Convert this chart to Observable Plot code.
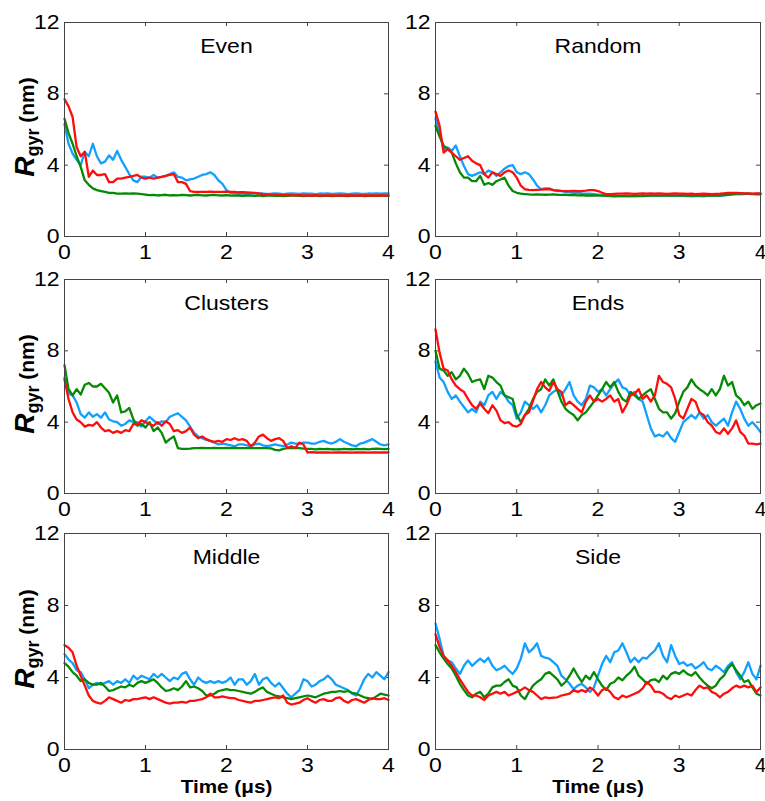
<!DOCTYPE html>
<html>
<head>
<meta charset="utf-8">
<script src="https://cdn.jsdelivr.net/npm/d3@7"></script>
<script src="https://cdn.jsdelivr.net/npm/@observablehq/plot@0.6"></script>
<style>
  html, body { margin: 0; padding: 0; background: #fff; }
  body { width: 765px; height: 801px; position: relative; overflow: hidden; font-family: "Liberation Sans", Arial, sans-serif; }
  .panel { position: absolute; }
  .panel svg { overflow: visible; }
</style>
</head>
<body>
<div id="chart"></div>
<script>
// ---------- data ----------
const times = [0,0.05,0.1,0.15,0.2,0.25,0.3,0.35,0.4,0.45,0.5,0.55,0.6,0.65,0.7,0.75,0.8,0.85,0.9,0.95,1,1.05,1.1,1.15,1.2,1.25,1.3,1.35,1.4,1.45,1.5,1.55,1.6,1.65,1.7,1.75,1.8,1.85,1.9,1.95,2,2.05,2.1,2.15,2.2,2.25,2.3,2.35,2.4,2.45,2.5,2.55,2.6,2.65,2.7,2.75,2.8,2.85,2.9,2.95,3,3.05,3.1,3.15,3.2,3.25,3.3,3.35,3.4,3.45,3.5,3.55,3.6,3.65,3.7,3.75,3.8,3.85,3.9,3.95,4];

const xTicks = [0, 1, 2, 3, 4];
const yTicks = [0, 4, 8, 12];
const titles = ["Even", "Random", "Clusters", "Ends", "Middle", "Side"];
const xLabel = "Time (\u03bcs)";

const evenGreen = [6.6,5.8,5.2,4.5,3.9,3.15,2.9,2.7,2.6,2.55,
  2.5,2.45,2.45,2.4,2.4,2.42,2.4,2.42,2.4,2.38,
  2.35,2.32,2.33,2.3,2.32,2.34,2.3,2.32,2.31,2.33,
  2.32,2.3,2.32,2.34,2.31,2.3,2.32,2.33,2.31,2.3,
  2.32,2.3,2.29,2.3,2.28,2.3,2.29,2.28,2.3,2.27,
  2.29,2.3,2.28,2.29,2.27,2.28,2.3,2.29,2.28,2.27,
  2.29,2.28,2.3,2.27,2.28,2.29,2.27,2.28,2.3,2.28,
  2.27,2.29,2.28,2.3,2.27,2.28,2.29,2.28,2.3,2.29,
  2.28];
const evenBlue = [6.3,5.2,4.65,4.3,4.0,4.75,4.5,5.2,4.5,4.1,
  4.2,4.55,4.3,4.8,4.3,3.9,3.5,3.15,3.05,3.35,
  3.35,3.3,3.45,3.3,3.35,3.4,3.5,3.6,3.35,3.3,
  3.15,3.2,3.25,3.35,3.45,3.5,3.6,3.45,3.15,2.95,
  2.6,2.45,2.4,2.42,2.4,2.38,2.4,2.42,2.4,2.41,
  2.39,2.4,2.42,2.4,2.38,2.4,2.41,2.4,2.39,2.42,
  2.4,2.4,2.38,2.41,2.4,2.42,2.39,2.4,2.41,2.4,
  2.38,2.4,2.42,2.4,2.39,2.41,2.4,2.42,2.4,2.41,
  2.42];
const evenRed = [7.7,7.3,6.7,5.0,4.5,4.75,3.35,3.7,3.45,3.45,
  3.5,3.05,3.05,3.25,3.25,3.3,3.35,3.4,3.45,3.3,
  3.25,3.3,3.25,3.3,3.35,3.4,3.45,3.5,3.05,3.05,
  2.95,2.55,2.5,2.5,2.5,2.5,2.52,2.5,2.5,2.5,
  2.52,2.5,2.5,2.48,2.48,2.47,2.46,2.45,2.42,2.38,
  2.35,2.35,2.34,2.33,2.32,2.33,2.32,2.31,2.32,2.31,
  2.3,2.31,2.3,2.31,2.3,2.3,2.31,2.3,2.3,2.31,
  2.3,2.3,2.31,2.3,2.3,2.31,2.3,2.3,2.31,2.3,
  2.3];

const randomGreen = [6.2,5.6,5.1,4.9,4.7,4.1,3.6,3.3,3.3,3.1,
  3.1,3.4,2.9,3.0,2.9,3.1,3.2,3.3,2.85,2.55,
  2.45,2.4,2.38,2.36,2.35,2.36,2.35,2.34,2.35,2.36,
  2.34,2.33,2.34,2.32,2.33,2.31,2.32,2.3,2.31,2.3,
  2.3,2.29,2.28,2.27,2.28,2.26,2.27,2.28,2.26,2.27,
  2.28,2.27,2.28,2.29,2.3,2.29,2.3,2.31,2.3,2.29,
  2.3,2.31,2.3,2.29,2.3,2.31,2.3,2.29,2.3,2.31,
  2.3,2.32,2.34,2.38,2.4,2.41,2.4,2.39,2.38,2.37,
  2.36];
const randomBlue = [6.6,5.8,4.9,5.0,4.8,5.1,4.5,3.95,3.5,3.4,
  3.5,3.6,3.5,3.7,3.6,3.4,3.6,3.8,3.95,4.0,
  3.6,3.5,3.6,3.5,3.2,2.85,2.65,2.7,2.7,2.6,
  2.55,2.55,2.5,2.48,2.45,2.45,2.42,2.4,2.4,2.38,
  2.35,2.32,2.3,2.28,2.25,2.27,2.26,2.28,2.27,2.26,
  2.28,2.3,2.29,2.3,2.31,2.3,2.29,2.3,2.31,2.3,
  2.29,2.28,2.26,2.25,2.27,2.26,2.25,2.28,2.3,2.29,
  2.3,2.31,2.33,2.35,2.36,2.37,2.38,2.4,2.39,2.4,
  2.42];
const randomRed = [7.0,6.2,4.7,4.9,4.7,4.5,4.3,4.4,4.5,4.25,
  4.1,4.0,3.5,3.3,3.6,3.5,3.4,3.6,3.7,3.6,
  3.3,2.85,2.65,2.62,2.6,2.62,2.63,2.65,2.65,2.6,
  2.58,2.56,2.55,2.55,2.56,2.55,2.55,2.57,2.6,2.6,
  2.55,2.45,2.38,2.38,2.39,2.4,2.4,2.41,2.4,2.39,
  2.4,2.41,2.4,2.42,2.4,2.41,2.4,2.39,2.4,2.41,
  2.4,2.4,2.39,2.4,2.38,2.39,2.4,2.39,2.38,2.39,
  2.4,2.42,2.44,2.45,2.44,2.43,2.42,2.41,2.4,2.41,
  2.4];

const clustersGreen = [7.2,5.85,5.5,5.85,5.55,6.1,6.2,6.0,6.0,6.15,
  5.9,5.65,5.1,5.5,4.55,4.6,4.8,4.15,3.8,3.9,
  3.7,4.0,3.5,3.7,3.4,2.85,3.05,3.2,2.55,2.5,
  2.5,2.52,2.55,2.55,2.56,2.55,2.54,2.56,2.55,2.55,
  2.56,2.55,2.56,2.55,2.54,2.55,2.56,2.55,2.54,2.55,
  2.55,2.53,2.45,2.42,2.5,2.55,2.56,2.55,2.54,2.52,
  2.5,2.5,2.48,2.5,2.49,2.5,2.48,2.47,2.48,2.5,
  2.49,2.48,2.5,2.49,2.5,2.48,2.5,2.51,2.5,2.49,
  2.5];
const clustersBlue = [6.5,5.6,5.5,5.1,4.45,4.25,4.55,4.3,4.45,4.25,
  4.55,4.15,4.05,4.0,3.8,3.9,4.1,4.0,4.0,3.75,
  4.05,4.3,4.1,3.9,4.05,4.0,4.3,4.4,4.5,4.3,
  4.1,3.75,3.4,3.2,3.1,3.0,2.95,2.85,2.75,2.8,
  2.75,2.7,2.65,2.75,2.75,2.7,2.65,2.75,2.8,2.7,
  2.65,2.7,2.75,2.7,2.65,2.75,2.85,2.8,2.8,2.85,
  2.85,2.8,2.8,2.9,2.95,2.85,2.8,2.9,3.05,2.9,
  2.8,2.7,2.65,2.8,2.85,2.95,3.05,2.9,2.75,2.7,
  2.75];
const clustersRed = [6.4,5.3,4.55,4.15,4.0,3.75,3.85,3.8,4.0,3.7,
  3.5,3.55,3.4,3.5,3.4,3.55,3.5,3.9,3.85,4.1,
  4.0,3.9,3.8,4.0,3.8,4.05,3.9,3.5,3.55,3.4,
  3.5,3.7,3.3,3.1,3.2,3.05,2.95,2.9,2.95,2.9,
  3.05,3.0,3.1,3.0,3.05,2.95,2.65,2.85,3.2,3.3,
  3.1,2.95,3.05,3.1,2.95,2.55,2.65,2.55,2.85,2.75,
  2.3,2.32,2.3,2.31,2.3,2.3,2.29,2.3,2.31,2.3,
  2.3,2.29,2.3,2.31,2.3,2.29,2.3,2.3,2.31,2.3,
  2.3];

const endsGreen = [8.0,7.0,6.9,6.6,6.8,6.4,6.6,7.0,6.7,6.25,
  6.35,6.4,5.85,6.6,6.5,6.25,6.05,5.5,5.4,5.3,
  4.4,4.0,4.4,4.75,5.3,5.7,5.85,6.4,6.05,6.4,
  5.75,5.15,4.75,4.55,4.4,4.1,4.4,4.55,4.85,5.15,
  5.5,5.85,6.25,5.95,6.25,5.7,5.3,5.15,5.7,5.5,
  5.3,5.5,5.7,5.85,5.3,4.75,4.55,4.55,4.2,4.5,
  5.15,5.7,5.95,6.4,6.05,5.85,5.7,5.5,5.85,5.5,
  5.85,6.6,6.05,6.25,5.5,5.3,4.95,5.15,4.75,4.95,
  5.05];
const endsBlue = [7.4,6.5,6.25,5.7,5.3,5.5,5.15,4.85,4.55,4.75,
  4.55,5.15,4.95,5.5,5.7,5.3,5.7,5.5,5.15,4.95,
  4.2,4.55,5.15,4.95,4.75,4.95,4.55,4.95,5.5,5.7,
  5.85,5.5,5.85,6.25,5.5,5.15,4.95,5.3,6.05,5.95,
  5.7,5.85,5.5,5.85,6.15,6.4,5.95,5.85,5.5,5.7,
  5.3,5.15,4.4,3.65,3.2,3.3,3.2,3.45,3.1,2.9,
  3.45,4.0,4.2,4.4,4.2,4.55,4.2,4.4,4.0,3.8,
  4.0,4.2,3.8,4.55,5.15,4.75,4.2,3.8,4.0,3.75,
  3.45];
const endsRed = [9.2,7.9,7.0,6.9,6.4,6.05,5.85,5.7,5.3,4.95,
  4.75,5.05,4.75,4.5,4.95,4.65,4.1,3.95,4.0,3.8,
  3.75,3.9,4.4,4.55,5.2,5.85,6.25,5.95,5.75,6.25,
  5.85,5.7,4.95,5.15,4.95,4.75,4.55,5.15,5.5,5.15,
  5.3,5.15,5.3,5.5,5.15,5.3,4.55,4.95,5.5,5.6,
  5.85,5.3,5.5,5.15,5.5,6.6,6.25,6.15,5.95,5.3,
  4.4,4.2,4.75,5.3,5.15,4.55,4.4,4.0,3.8,3.45,
  3.35,3.65,3.35,3.65,4.1,3.45,3.25,2.8,2.8,2.75,
  2.8];

const middleGreen = [4.8,4.6,4.3,4.1,3.8,3.9,3.7,3.6,3.6,3.7,
  3.5,3.25,3.3,3.4,3.5,3.45,3.6,3.5,3.7,3.8,
  3.7,3.8,3.9,3.7,3.45,3.25,3.3,3.4,3.3,3.5,
  3.8,3.45,3.5,3.4,3.25,3.0,3.0,3.1,3.25,3.3,
  3.35,3.3,3.3,3.25,3.2,3.15,3.1,3.2,3.35,3.45,
  3.2,3.1,3.0,2.95,2.9,2.85,2.8,2.85,2.9,2.95,
  3.0,2.95,2.9,3.0,3.1,3.15,3.2,3.2,3.25,3.2,
  3.25,3.15,3.1,3.0,2.9,2.85,2.8,2.95,3.1,3.05,
  3.0];
const middleBlue = [5.3,5.0,4.8,4.4,4.3,3.9,3.4,3.6,3.7,3.6,
  3.7,3.8,3.6,3.8,3.7,3.9,3.7,4.1,3.9,4.1,
  4.0,3.9,4.2,4.0,4.2,4.0,3.8,4.0,3.9,4.2,
  4.3,3.9,3.6,4.0,3.8,3.7,3.8,3.7,3.8,3.7,
  3.8,4.0,3.6,3.9,3.9,3.6,3.8,4.2,3.6,3.9,
  4.0,3.7,3.5,3.7,3.4,3.1,2.9,3.1,3.3,3.9,
  3.8,3.5,3.6,3.8,3.9,4.1,3.9,3.6,3.5,3.4,
  3.3,3.1,3.0,3.4,3.9,4.2,4.0,4.3,4.1,3.9,
  4.3];
const middleRed = [5.8,5.65,5.4,4.65,4.1,3.55,3.0,2.7,2.6,2.55,
  2.7,2.9,2.8,2.7,2.6,2.75,2.7,2.8,2.8,2.85,
  2.9,2.8,2.9,2.8,2.7,2.6,2.55,2.6,2.6,2.65,
  2.6,2.7,2.7,2.75,2.8,2.9,3.1,2.9,2.9,2.95,
  2.9,2.85,2.85,2.75,2.7,2.65,2.6,2.7,2.7,2.75,
  2.8,2.85,2.9,2.85,3.0,2.6,2.5,2.55,2.6,2.75,
  2.85,2.7,2.6,2.75,2.8,2.7,2.7,2.85,2.9,2.7,
  2.6,2.75,2.8,2.7,2.6,2.75,2.85,2.8,2.8,2.85,
  2.75];

const sideGreen = [5.8,5.4,5.05,4.75,4.5,4.1,3.65,3.3,3.0,2.9,
  3.1,3.2,2.9,3.1,3.45,3.55,3.55,3.75,3.9,3.55,
  3.45,3.0,2.8,3.2,3.55,3.75,3.9,4.2,4.3,4.1,
  3.9,3.55,3.75,4.1,4.5,4.1,3.75,4.1,3.9,4.3,
  3.9,3.55,3.3,3.65,3.75,4.0,3.85,4.1,4.3,4.6,
  4.1,3.9,3.65,3.85,3.9,3.75,4.1,3.9,4.2,4.3,
  4.2,4.4,4.2,4.1,4.3,4.0,3.75,3.55,3.4,3.55,
  3.9,4.1,4.5,4.75,4.4,4.1,3.75,3.85,3.45,3.1,
  3.0];
const sideBlue = [7.0,6.15,5.2,4.95,4.85,4.5,4.2,4.65,4.95,4.65,
  4.85,5.05,4.85,5.1,4.65,4.4,4.5,4.65,4.4,4.2,
  4.5,5.05,5.9,5.4,5.6,5.9,5.2,5.1,5.05,4.85,
  4.65,4.1,3.9,3.65,3.35,3.55,3.65,3.45,3.2,3.45,
  4.1,4.75,5.2,4.85,5.4,5.5,5.9,5.4,4.85,5.1,
  4.85,5.1,5.05,5.3,5.5,5.9,5.2,4.85,5.8,5.2,
  4.75,4.85,4.65,4.75,4.5,4.65,4.85,4.5,4.4,4.65,
  4.5,4.3,4.65,4.85,4.3,3.9,4.3,4.85,4.2,3.9,
  4.65];
const sideRed = [6.4,5.7,5.2,4.95,4.65,4.3,3.9,3.55,3.2,3.0,
  3.0,2.9,2.75,3.0,3.1,3.2,3.1,3.2,3.0,3.1,
  3.2,3.3,3.45,3.3,3.2,3.0,2.8,2.9,2.85,2.88,
  2.9,3.0,3.05,3.1,3.3,3.2,3.3,3.2,3.45,3.3,
  3.0,3.3,3.4,3.2,2.9,2.8,3.0,2.9,3.0,3.1,
  3.2,3.4,3.75,3.55,3.2,3.2,3.1,2.9,2.8,3.0,
  2.9,3.0,3.1,3.0,3.3,3.55,3.4,3.45,3.2,3.1,
  2.9,3.1,3.2,3.4,3.55,3.45,3.55,3.45,3.55,3.2,
  3.45];

// ---------- layout / style ----------
const colors = { blue: "#12a0ff", green: "#058a05", red: "#ff0d0d" };
const frameColor = "#444";
const textStretch = 1.15;
const cols = [
  { left: 0,   width: 395, ml: 64, mr: 7 },
  { left: 383, width: 382, ml: 52, mr: 5 }
];
const rows = [
  { top: 0,   mt: 22, fh: 214, mb: 30 },
  { top: 257, mt: 22, fh: 214, mb: 30 },
  { top: 511, mt: 22, fh: 216, mb: 52 }
];
const panels = [
  { title: titles[0], blue: evenBlue,     green: evenGreen,     red: evenRed,     col: 0, row: 0 },
  { title: titles[1], blue: randomBlue,   green: randomGreen,   red: randomRed,   col: 1, row: 0 },
  { title: titles[2], blue: clustersBlue, green: clustersGreen, red: clustersRed, col: 0, row: 1 },
  { title: titles[3], blue: endsBlue,     green: endsGreen,     red: endsRed,     col: 1, row: 1 },
  { title: titles[4], blue: middleBlue,   green: middleGreen,   red: middleRed,   col: 0, row: 2 },
  { title: titles[5], blue: sideBlue,     green: sideGreen,     red: sideRed,     col: 1, row: 2 }
];

const toRows = (arr) => arr.map((v, i) => ({ t: times[i], v }));
const chart = document.getElementById("chart");
const lw = 2.3;

for (const p of panels) {
  const c = cols[p.col], r = rows[p.row];
  const fw = c.width - c.ml - c.mr;
  const height = r.mt + r.fh + r.mb;
  const marks = [
    Plot.ruleX(xTicks, { x: d => d, insetTop: r.fh - 4, stroke: frameColor }),
    Plot.ruleX(xTicks, { x: d => d, insetBottom: r.fh - 4, stroke: frameColor }),
    Plot.ruleY(yTicks, { y: d => d, insetRight: fw - 4, stroke: frameColor }),
    Plot.ruleY(yTicks, { y: d => d, insetLeft: fw - 4, stroke: frameColor }),
    Plot.line(toRows(p.blue),  { x: "t", y: "v", stroke: colors.blue,  strokeWidth: lw, strokeLinejoin: "round" }),
    Plot.line(toRows(p.green), { x: "t", y: "v", stroke: colors.green, strokeWidth: lw, strokeLinejoin: "round" }),
    Plot.line(toRows(p.red),   { x: "t", y: "v", stroke: colors.red,   strokeWidth: lw, strokeLinejoin: "round" }),
    Plot.frame({ stroke: frameColor, strokeWidth: 1 }),
    Plot.text([p.title], { frameAnchor: "top", lineAnchor: "middle", dy: 24, fontSize: 20, fill: "#000" })
  ];
  if (p.row === 2) {
    marks.push(Plot.text([xLabel], { frameAnchor: "bottom", lineAnchor: "middle", dy: 38, fontSize: 18, fontWeight: "bold", fill: "#000" }));
  }
  const svg = Plot.plot({
    width: c.width,
    height,
    marginLeft: c.ml,
    marginRight: c.mr,
    marginTop: r.mt,
    marginBottom: r.mb,
    style: { fontFamily: "'Liberation Sans', Arial, sans-serif", fontSize: "20px", color: "#000", background: "transparent", overflow: "visible" },
    x: { domain: [0, 4], ticks: xTicks, tickFormat: d => String(d), tickSize: 0, tickPadding: 8, label: null },
    y: { domain: [0, 12], ticks: yTicks, tickFormat: d => String(d), tickSize: 0, tickPadding: 5, label: null },
    marks
  });
  // the reference's lettering is slightly wide: stretch each text horizontally about its own anchor
  d3.select(svg).selectAll("text").each(function () {
    // keep the right-hand column's last x tick label unstretched so it stays inside the window
    if (p.col === 1 && this.textContent === "4" && this.closest("[aria-label='x-axis tick label']")) return;
    const xa = this.getAttribute("x");
    let pre = "";
    if (xa !== null && /^-?[\d.]+$/.test(xa.trim()) && parseFloat(xa) !== 0) {
      pre = ` translate(${parseFloat(xa)},0)`;
      this.removeAttribute("x");
    }
    const tr = this.getAttribute("transform") || "";
    this.setAttribute("transform", `${tr}${pre} scale(${textStretch},1)`);
  });
  if (p.col === 0) {
    const t = d3.select(svg).append("text")
      .attr("transform", `translate(34,${r.mt + r.fh / 2 - 2}) rotate(-90)`)
      .attr("text-anchor", "middle")
      .attr("font-weight", "bold")
      .attr("fill", "#000");
    t.append("tspan").attr("font-size", 28).attr("font-style", "italic").text("R");
    t.append("tspan").attr("font-size", 18).attr("dy", 5).text("gyr");
    t.append("tspan").attr("font-size", 21).attr("dy", -5).text("\u00a0(nm)");
  }
  const div = document.createElement("div");
  div.className = "panel";
  div.style.left = c.left + "px";
  div.style.top = r.top + "px";
  div.appendChild(svg);
  chart.appendChild(div);
}
</script>
</body>
</html>
